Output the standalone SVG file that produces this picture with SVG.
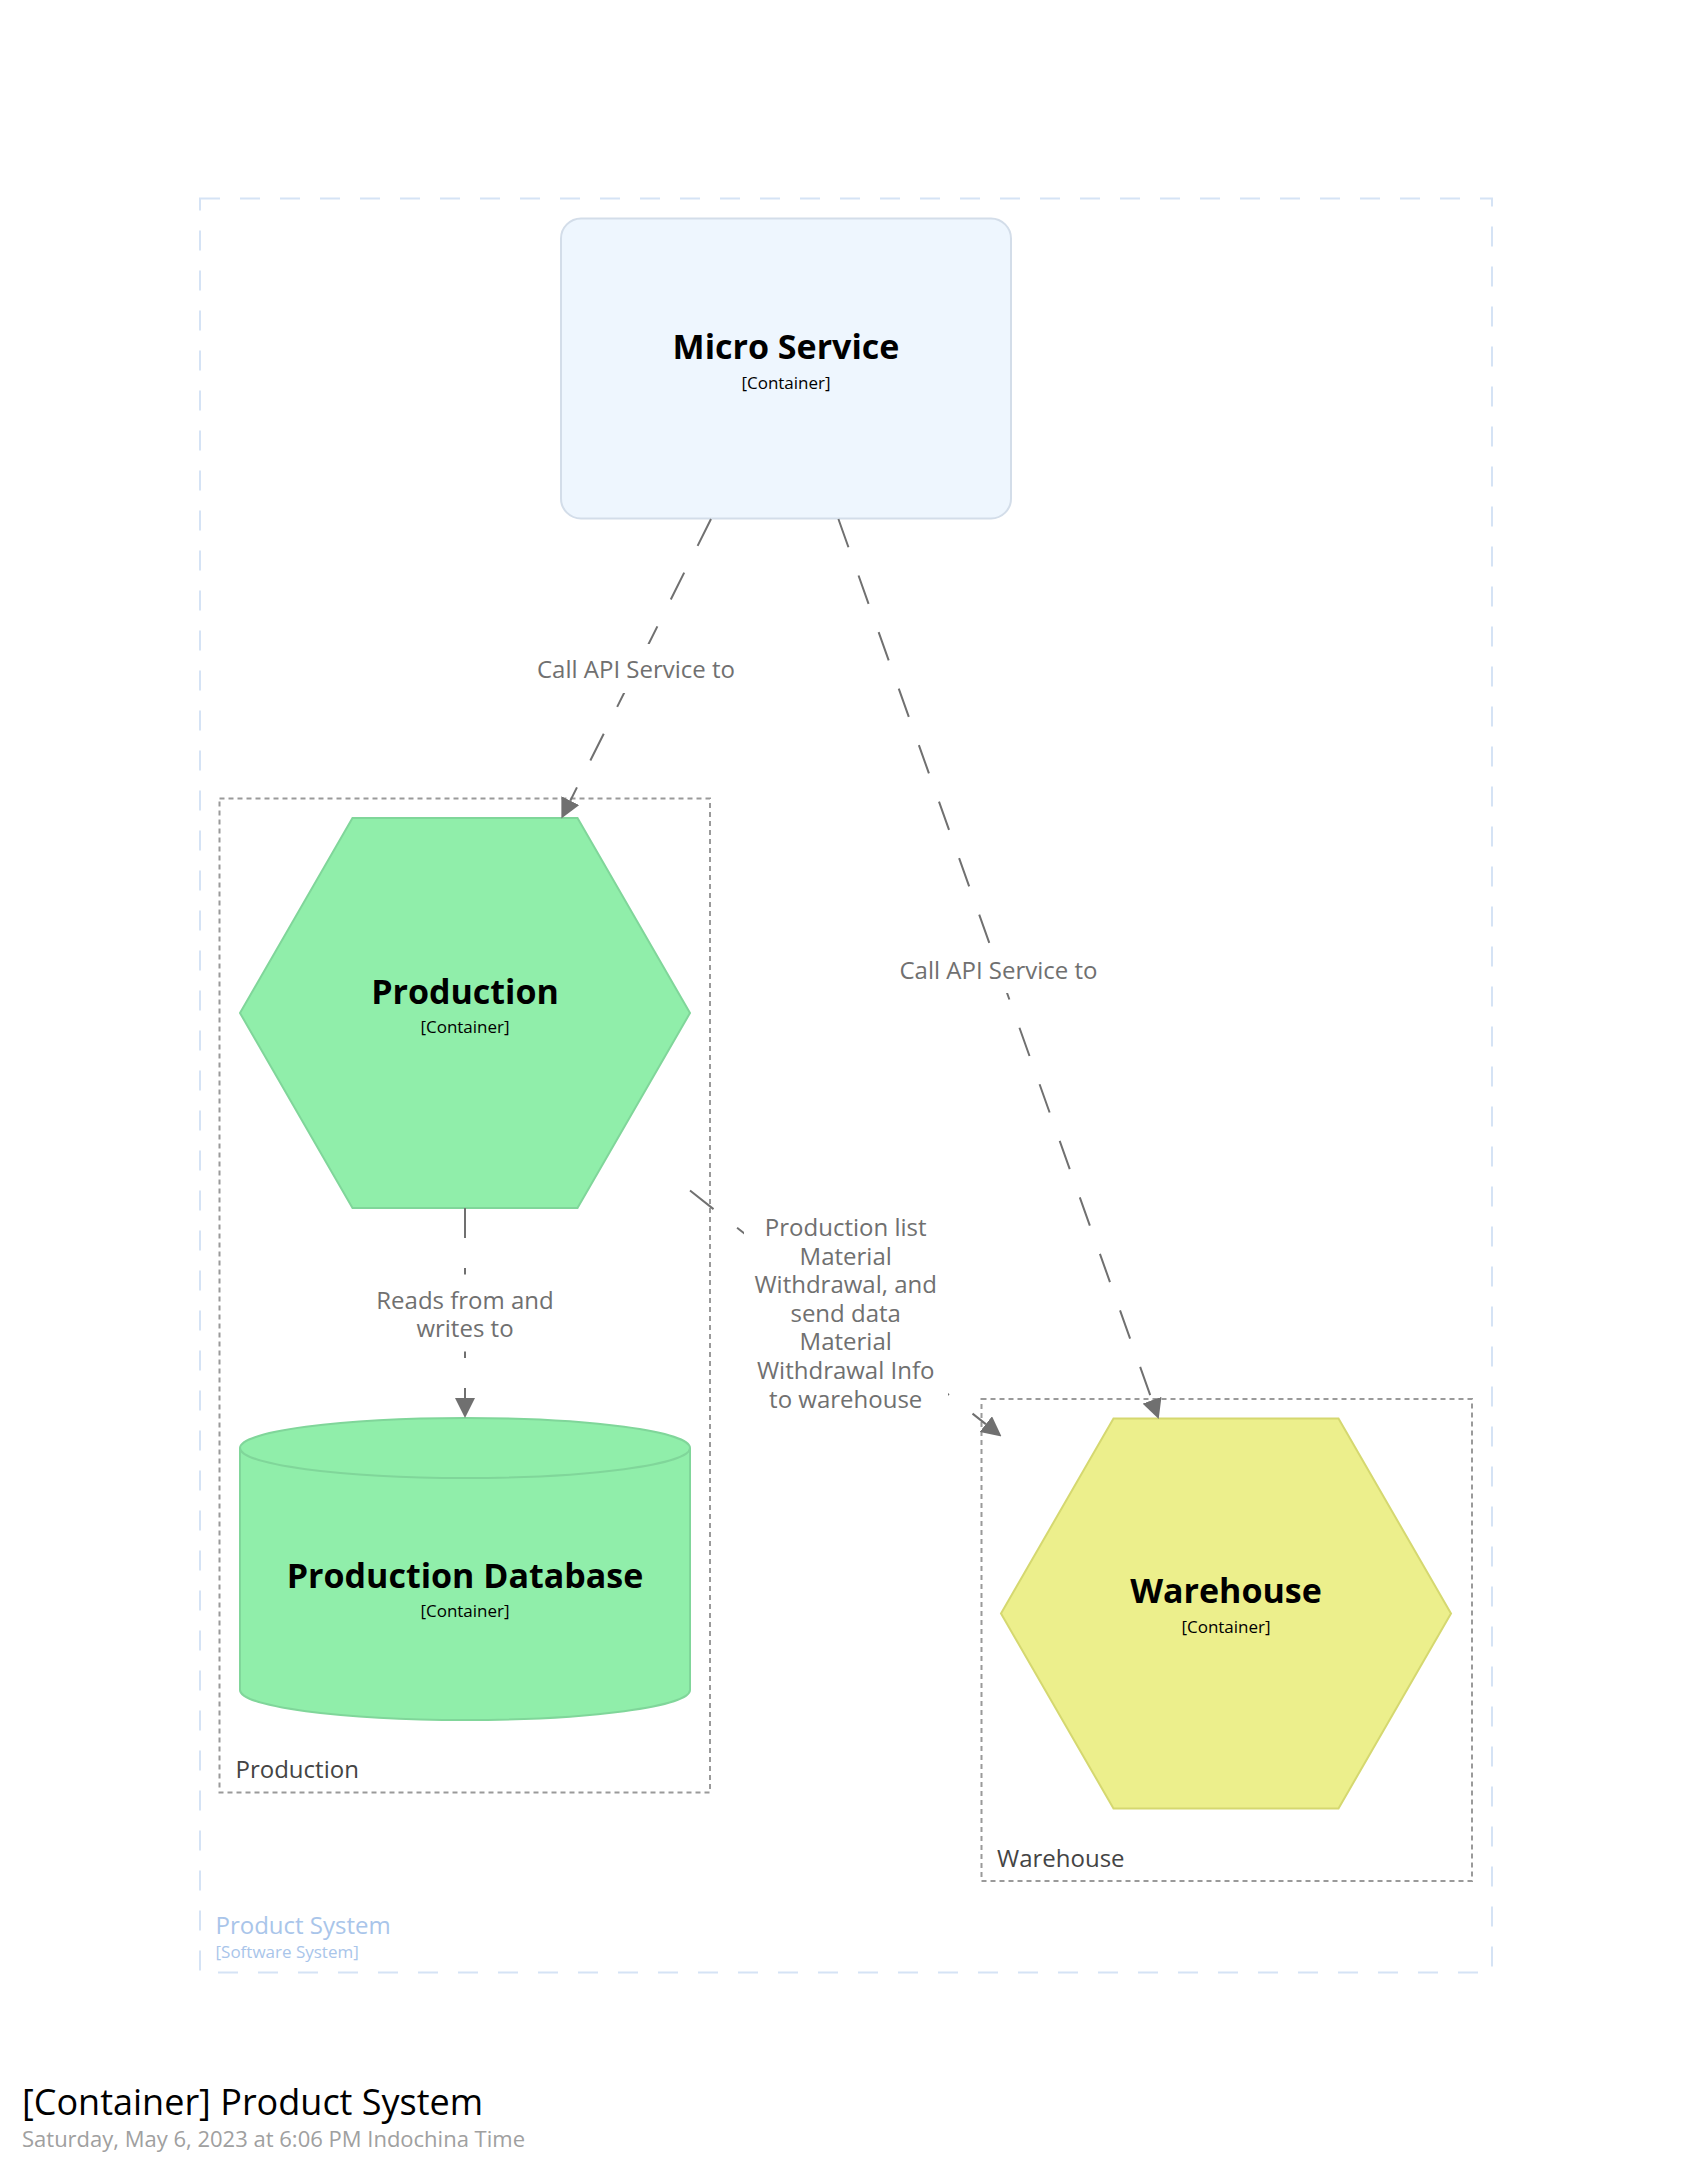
<svg xmlns="http://www.w3.org/2000/svg" width="1692" height="2174" viewBox="0 0 1692 2174">
  <style>
    text { font-family: "Open Sans", "Noto Sans", "DejaVu Sans", sans-serif; }
    .name { font-weight: bold; font-size: 34px; fill: #000000; text-anchor: middle; }
    .meta { font-size: 17px; fill: #000000; text-anchor: middle; }
    .rel { fill: none; stroke: #707070; stroke-width: 2; stroke-dasharray: 30 30; }
    .rellabel { font-size: 24px; fill: #707070; text-anchor: middle; }
    .labelbg { fill: #ffffff; stroke: none; }
    .group { fill: none; stroke: #9a9a9a; stroke-width: 2; stroke-dasharray: 5 4; }
    .grouplabel { font-size: 24px; fill: #444444; }
    .green { fill: #90eeaa; stroke: #80d69a; stroke-width: 2; }
    .yellow { fill: #ecef8c; stroke: #d5d870; stroke-width: 2; }
  </style>
  <defs>
    <marker id="arrow" markerUnits="userSpaceOnUse" markerWidth="20" markerHeight="20" refX="0" refY="10" orient="auto" viewBox="0 0 20 20">
      <path d="M0,0 L20,10 L0,20 Z" fill="#707070"/>
    </marker>
  </defs>
  <rect width="1692" height="2174" fill="#ffffff"/>

  <g id="product-system-boundary">
    <rect x="200" y="198.5" width="1292" height="1774" fill="none" stroke="#d5e3f5" stroke-width="2" stroke-dasharray="20 20"/>
    <text x="215.5" y="1934" font-size="24" fill="#a9c5ea">Product System</text>
    <text x="215.5" y="1957.5" font-size="17" fill="#a9c5ea">[Software System]</text>
  </g>

  <g id="production-group">
    <rect class="group" x="219.5" y="798.5" width="490.5" height="994"/>
    <text class="grouplabel" x="235.5" y="1778">Production</text>
  </g>

  <g id="warehouse-group">
    <rect class="group" x="981.5" y="1399" width="490.5" height="482"/>
    <text class="grouplabel" x="997" y="1866.5">Warehouse</text>
  </g>

  <g id="micro-service">
    <rect x="561" y="218.5" width="450" height="300" rx="20" ry="20" fill="#eef6fe" stroke="#d3dde9" stroke-width="2"/>
    <text class="name" x="786" y="358.5">Micro Service</text>
    <text class="meta" x="786" y="389">[Container]</text>
  </g>

  <g id="production">
    <polygon class="green" points="240,1013 352.5,818 577.5,818 690,1013 577.5,1208 352.5,1208"/>
    <text class="name" x="465" y="1004">Production</text>
    <text class="meta" x="465" y="1033">[Container]</text>
  </g>

  <g id="production-database">
    <path class="green" d="M240,1448 A225,30 0 0,1 690,1448 L690,1690 A225,30 0 0,1 240,1690 Z"/>
    <path d="M240,1448 A225,30 0 0,0 690,1448" fill="none" stroke="#80d69a" stroke-width="2"/>
    <text class="name" x="465" y="1588">Production Database</text>
    <text class="meta" x="465" y="1617">[Container]</text>
  </g>

  <g id="warehouse">
    <polygon class="yellow" points="1001,1613.5 1113.5,1418.5 1338.5,1418.5 1451,1613.5 1338.5,1808.5 1113.5,1808.5"/>
    <text class="name" x="1226" y="1603">Warehouse</text>
    <text class="meta" x="1226" y="1633">[Container]</text>
  </g>

  <g id="connectors">
    <line class="rel" x1="711" y1="519" x2="570.3" y2="800.7" marker-end="url(#arrow)"/>
    <line class="rel" x1="838.4" y1="519" x2="1152" y2="1400.2" marker-end="url(#arrow)"/>
    <line class="rel" x1="465" y1="1208" x2="465" y2="1398" marker-end="url(#arrow)"/>
    <line class="rel" x1="690" y1="1190.5" x2="985.8" y2="1424.1" marker-end="url(#arrow)"/>

    <rect class="labelbg" x="526" y="644" width="220" height="49"/>
    <text class="rellabel" x="636" y="678">Call API Service to</text>

    <rect class="labelbg" x="888.5" y="944" width="220" height="49"/>
    <text class="rellabel" x="998.5" y="978.5">Call API Service to</text>

    <rect class="labelbg" x="365.5" y="1274.5" width="199" height="77"/>
    <text class="rellabel" x="465" y="1308.6">Reads from and<tspan x="465" dy="28.6">writes to</tspan></text>

    <rect class="labelbg" x="744" y="1203" width="204" height="220"/>
    <text class="rellabel" x="845.7" y="1236">Production list<tspan x="845.7" dy="28.6">Material</tspan><tspan x="845.7" dy="28.6">Withdrawal, and</tspan><tspan x="845.7" dy="28.6">send data</tspan><tspan x="845.7" dy="28.6">Material</tspan><tspan x="845.7" dy="28.6">Withdrawal Info</tspan><tspan x="845.7" dy="28.6">to warehouse</tspan></text>
  </g>

  <g id="title">
    <text x="22" y="2115" font-size="36" fill="#000000">[Container] Product System</text>
    <text x="22" y="2147" font-size="22" fill="#a0a0a0">Saturday, May 6, 2023 at 6:06 PM Indochina Time</text>
  </g>
</svg>
